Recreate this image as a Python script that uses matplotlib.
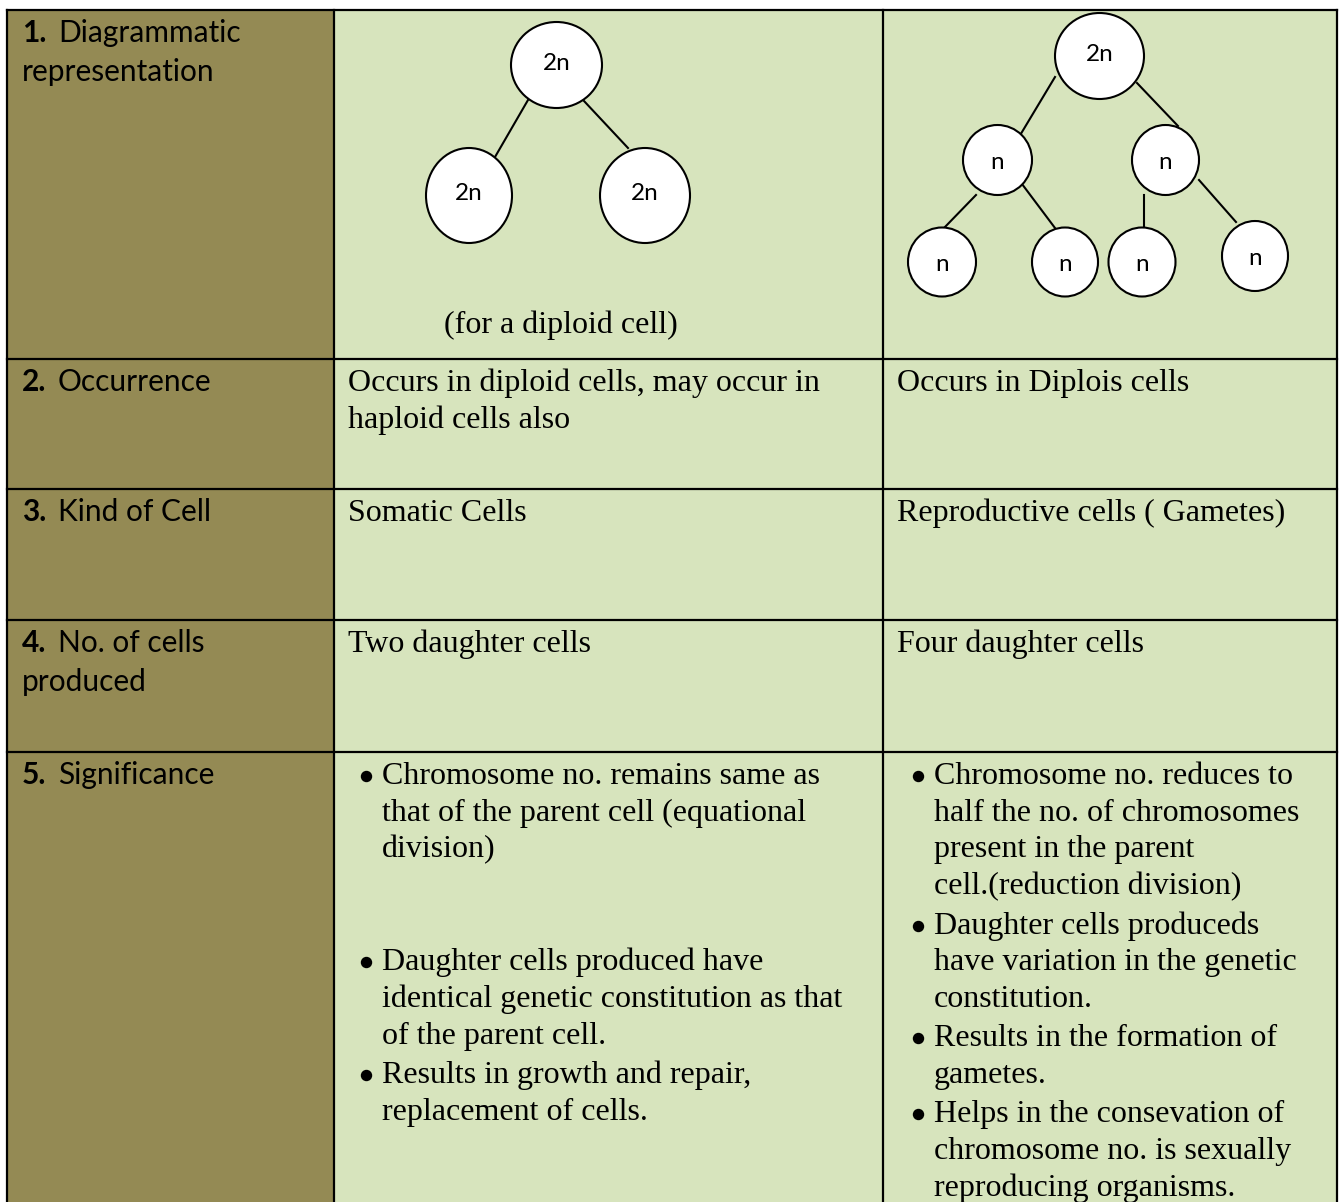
import matplotlib.pyplot as plt
from matplotlib.patches import Rectangle, Ellipse

# Table content.
row_numbers = ["1.", "2.", "3.", "4.", "5."]
row_labels = [
    ["Diagrammatic", "representation"],
    ["Occurrence"],
    ["Kind of Cell"],
    ["No. of cells", "produced"],
    ["Significance"],
]

mitosis_cells = [
    ["Occurs in diploid cells, may occur in", "haploid cells also"],
    ["Somatic Cells"],
    ["Two daughter cells"],
]
meiosis_cells = [
    ["Occurs in Diplois cells"],
    ["Reproductive cells ( Gametes)"],
    ["Four daughter cells"],
]

mitosis_significance = [
    ["Chromosome no. remains same as", "that of the parent cell (equational", "division)", "", ""],
    ["Daughter cells produced have", "identical genetic constitution as that", "of the parent cell."],
    ["Results in growth and repair,", "replacement of cells."],
]
meiosis_significance = [
    ["Chromosome no. reduces to", "half the no. of chromosomes", "present in the parent", "cell.(reduction division)"],
    ["Daughter cells produceds", "have variation in the genetic", "constitution."],
    ["Results in the formation of", "gametes."],
    ["Helps in the consevation of", "chromosome no. is sexually", "reproducing organisms."],
]

mitosis_caption = "(for a diploid cell)"
mitosis_nodes = ["2n", "2n", "2n"]
meiosis_nodes = ["2n", "n", "n", "n", "n", "n", "n"]

# Layout (pixels, origin top-left).
col_x = [7, 334, 883, 1337]
row_y = [10, 359, 489, 620, 752, 1215]

mitosis_geom = [(556.5, 65, 91, 86), (469, 195.5, 86, 95), (645, 195.5, 90, 95)]
mitosis_links = [((528, 100), (495, 157)), ((584, 101), (628, 148))]
meiosis_geom = [
    (1099.5, 56, 89, 86),
    (997.5, 160, 69, 70),
    (1165.5, 160, 67, 70),
    (942, 262, 68, 69),
    (1065, 262, 66, 69),
    (1142, 262, 67, 69),
    (1255, 256, 66, 70),
]
meiosis_links = [
    ((1055, 77), (1019, 137)),
    ((1137, 83), (1178, 126)),
    ((976, 195), (944, 228)),
    ((1019, 180), (1055, 228)),
    ((1144, 195), (1144, 227)),
    ((1199, 180), (1236, 222)),
]

dark = "#948A54"
light = "#D7E4BD"
serif = "Liberation Serif"
sans = "Lato"
serif_size = 23
sans_size = 21.5
line_h = 36.7
para_gap = 2.7

fig = plt.figure(figsize=(13.39, 12.02), dpi=100)
ax = fig.add_axes([0, 0, 1, 1])
ax.set_xlim(0, 1339)
ax.set_ylim(1202, 0)
ax.axis("off")

# Cell backgrounds.
for i in range(len(row_y) - 1):
    for j in range(len(col_x) - 1):
        ax.add_patch(
            Rectangle(
                (col_x[j], row_y[i]),
                col_x[j + 1] - col_x[j],
                row_y[i + 1] - row_y[i],
                facecolor=dark if j == 0 else light,
                edgecolor="none",
                zorder=0,
            )
        )

# Grid lines.
for x in col_x:
    ax.plot([x, x], [row_y[0], row_y[-1]], color="black", lw=1.6, zorder=1)
for y in row_y[:-1]:
    ax.plot([col_x[0], col_x[-1]], [y, y], color="black", lw=1.6, zorder=1)

# Left column labels.
for i, (num, lines) in enumerate(zip(row_numbers, row_labels)):
    base = row_y[i] + 32
    ax.text(22, base, num, fontsize=sans_size, family=sans, weight="bold", va="baseline")
    ax.text(58, base, lines[0], fontsize=sans_size, family=sans, va="baseline")
    for k, line in enumerate(lines[1:]):
        ax.text(22, base + 38.5 * (k + 1), line, fontsize=sans_size, family=sans, va="baseline")

# Plain text cells, rows 2-4.
for i in range(3):
    base = row_y[i + 1] + 32
    for k, line in enumerate(mitosis_cells[i]):
        ax.text(348, base + line_h * k, line, fontsize=serif_size, family=serif, va="baseline")
    for k, line in enumerate(meiosis_cells[i]):
        ax.text(897, base + line_h * k, line, fontsize=serif_size, family=serif, va="baseline")


# Bulleted lists in the significance row.
def bullets(items, x_dot, x_text, top):
    y = top
    for item in items:
        ax.plot(x_dot, y - 8, marker="o", markersize=7.2, color="black", zorder=2)
        for line in item:
            ax.text(x_text, y, line, fontsize=serif_size, family=serif, va="baseline")
            y += line_h
        y += para_gap


bullets(mitosis_significance, 365.5, 382, row_y[4] + 32)
bullets(meiosis_significance, 917.5, 934, row_y[4] + 32)


# Division diagrams.
def tree(labels, geom, links):
    for (p, q) in links:
        ax.plot([p[0], q[0]], [p[1], q[1]], color="black", lw=1.5, zorder=2)
    for label, (cx, cy, w, h) in zip(labels, geom):
        ax.add_patch(Ellipse((cx, cy), w, h, facecolor="white", edgecolor="black", lw=1.5, zorder=3))
        dy = 9 if label == "n" else 5
        ax.text(cx, cy + dy, label, fontsize=17.5, family=sans, ha="center", va="baseline", zorder=4)


tree(mitosis_nodes, mitosis_geom, mitosis_links)
tree(meiosis_nodes, meiosis_geom, meiosis_links)

ax.text(561, 333, mitosis_caption, fontsize=serif_size, family=serif, ha="center", va="baseline")

plt.savefig("out.png", dpi=100)
